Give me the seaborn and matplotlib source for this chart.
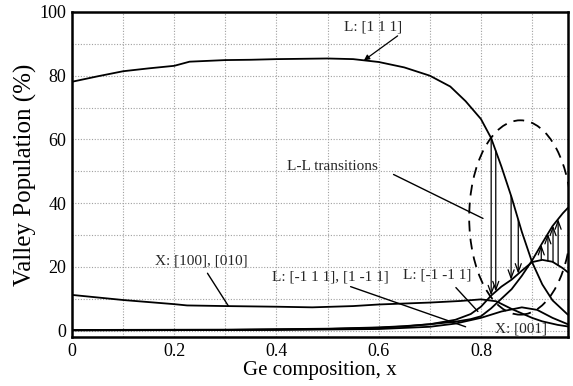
import numpy as np
import pandas as pd
import matplotlib
matplotlib.use("Agg")
import matplotlib.pyplot as plt
from matplotlib.patches import Ellipse
import seaborn as sns

# Valley populations (%) versus Ge composition x
x_l111 = [0, 0.05, 0.1, 0.15, 0.2, 0.23, 0.3, 0.35, 0.4, 0.45, 0.5, 0.55, 0.6,
          0.65, 0.7, 0.74, 0.77, 0.8, 0.82, 0.84, 0.86, 0.88, 0.9, 0.92, 0.94, 0.97]
l111 = [78.1, 79.8, 81.4, 82.3, 83.1, 84.4, 84.9, 85.0, 85.2, 85.3, 85.4, 85.2, 84.3,
        82.6, 80.0, 76.6, 72.0, 66.4, 60.4, 51.5, 41.8, 31.0, 21.5, 14.5, 9.5, 5.0]

x_x100 = [0, 0.1, 0.2, 0.225, 0.3, 0.4, 0.47, 0.55, 0.6, 0.7, 0.76, 0.8, 0.83,
          0.86, 0.9, 0.92, 0.95, 0.97]
x100 = [11.2, 9.6, 8.3, 7.9, 7.7, 7.5, 7.3, 7.7, 8.2, 8.8, 9.3, 9.8, 9.2,
        6.8, 4.0, 2.9, 1.8, 1.3]

x_lm11 = [0, 0.3, 0.5, 0.6, 0.65, 0.7, 0.75, 0.78, 0.8, 0.82, 0.84, 0.86, 0.88,
          0.9, 0.92, 0.94, 0.96, 0.97]
lm11 = [0.2, 0.3, 0.6, 1.0, 1.4, 2.0, 2.8, 3.6, 4.5, 7.0, 10.0, 13.0, 17.2,
        22.0, 27.5, 32.8, 36.8, 38.5]

x_lmm1 = [0, 0.3, 0.5, 0.6, 0.65, 0.7, 0.75, 0.78, 0.8, 0.82, 0.84, 0.86, 0.88,
          0.9, 0.92, 0.94, 0.96, 0.97]
lmm1 = [0.1, 0.2, 0.5, 0.9, 1.3, 2.0, 3.4, 5.2, 7.5, 11.0, 13.8, 16.0, 18.8,
        21.5, 22.2, 21.6, 19.6, 18.3]

x_x001 = [0, 0.4, 0.6, 0.7, 0.75, 0.8, 0.84, 0.88, 0.91, 0.94, 0.97]
x001 = [0.1, 0.2, 0.5, 1.2, 2.2, 4.0, 6.0, 7.3, 6.5, 4.0, 2.0]

# transition arrows: L[111] -> L[-1 -1 1] (down), L[-1 -1 1] -> L[-1 1 1] (up)
down_x = [0.820, 0.829, 0.859, 0.873]
up_x = [0.918, 0.931, 0.941, 0.951]

x_ticks = [0, 0.2, 0.4, 0.6, 0.8]
y_ticks = [0, 20, 40, 60, 80, 100]

sns.set_theme(style="whitegrid")
plt.rcParams["font.family"] = ["Liberation Serif", "DejaVu Serif"]

fig = plt.figure(figsize=(5.73, 3.86), dpi=100)
ax = fig.add_axes([0.1257, 0.127, 0.8653, 0.842])

series = [
    ("L111", x_l111, l111),
    ("X100", x_x100, x100),
    ("Lm11", x_lm11, lm11),
    ("Lmm1", x_lmm1, lmm1),
    ("X001", x_x001, x001),
]
frames = [pd.DataFrame({"x": xs, "y": ys, "valley": name}) for name, xs, ys in series]
df = pd.concat(frames, ignore_index=True)
sns.lineplot(data=df, x="x", y="y", units="valley", estimator=None, sort=False,
             color="black", lw=1.3, ax=ax, legend=False)

# transition arrows
arrow_kw = dict(arrowstyle="->,head_length=0.5,head_width=0.18", color="black",
                lw=0.9, shrinkA=0, shrinkB=0)
for xv in down_x:
    y0 = np.interp(xv, x_l111, l111)
    y1 = np.interp(xv, x_lmm1, lmm1)
    ax.annotate("", xy=(xv, y1), xytext=(xv, y0), arrowprops=arrow_kw)
for xv in up_x:
    y0 = np.interp(xv, x_lmm1, lmm1)
    y1 = np.interp(xv, x_lm11, lm11)
    ax.annotate("", xy=(xv, y1), xytext=(xv, y0), arrowprops=arrow_kw)

ax.add_patch(Ellipse((0.877, 35.5), width=0.2, height=61, fill=False,
                     ls=(0, (6, 4)), lw=1.3, color="black"))

# labels with pointers
fs = 11
ax.text(0.588, 95.3, "L: [1 1 1]", fontsize=fs, ha="center", va="center")
ax.annotate("", xy=(0.571, 84.8), xytext=(0.637, 92.5),
            arrowprops=dict(arrowstyle="-|>", color="black", lw=0.9,
                            mutation_scale=8, shrinkA=0, shrinkB=0))
ax.text(0.51, 51.6, "L-L transitions", fontsize=fs, ha="center", va="center")
ax.plot([0.629, 0.804], [49.0, 35.2], color="black", lw=1.0)
ax.text(0.253, 21.7, "X: [100], [010]", fontsize=fs, ha="center", va="center")
ax.plot([0.265, 0.306], [18.0, 7.7], color="black", lw=1.0)
ax.text(0.506, 16.8, "L: [-1 1 1], [1 -1 1]", fontsize=fs, ha="center", va="center")
ax.plot([0.545, 0.77], [13.8, 1.2], color="black", lw=1.0)
ax.text(0.714, 17.3, "L: [-1 -1 1]", fontsize=fs, ha="center", va="center")
ax.plot([0.751, 0.794], [13.5, 6.0], color="black", lw=1.0)
ax.text(0.878, 0.6, "X: [001]", fontsize=fs, ha="center", va="center")

ax.set_xlim(0, 0.97)
ax.set_ylim(-2, 100)
ax.set_xticks(np.arange(0, 0.971, 0.1), minor=False)
ax.set_yticks(np.arange(0, 101, 10))
ax.set_xticklabels([f"{v:g}" if any(abs(v - t) < 1e-9 for t in x_ticks) else ""
                    for v in np.arange(0, 0.971, 0.1)])
ax.set_yticklabels([f"{int(round(v))}" if int(round(v)) in y_ticks else ""
                    for v in np.arange(0, 101, 10)])
ax.tick_params(axis="both", length=0, labelsize=13, colors="black", pad=4)
ax.grid(True, color="#a0a0a0", ls=(0, (1, 1.5)), lw=0.8)
ax.set_facecolor("white")
for sp in ax.spines.values():
    sp.set_color("black")
    sp.set_linewidth(1.8)
    sp.set_visible(True)

ax.set_xlabel("Ge composition, x", fontsize=15, color="black", labelpad=1)
ax.set_ylabel("Valley Population (%)", fontsize=18, color="black", labelpad=2)

fig.savefig("out.png", dpi=100)
